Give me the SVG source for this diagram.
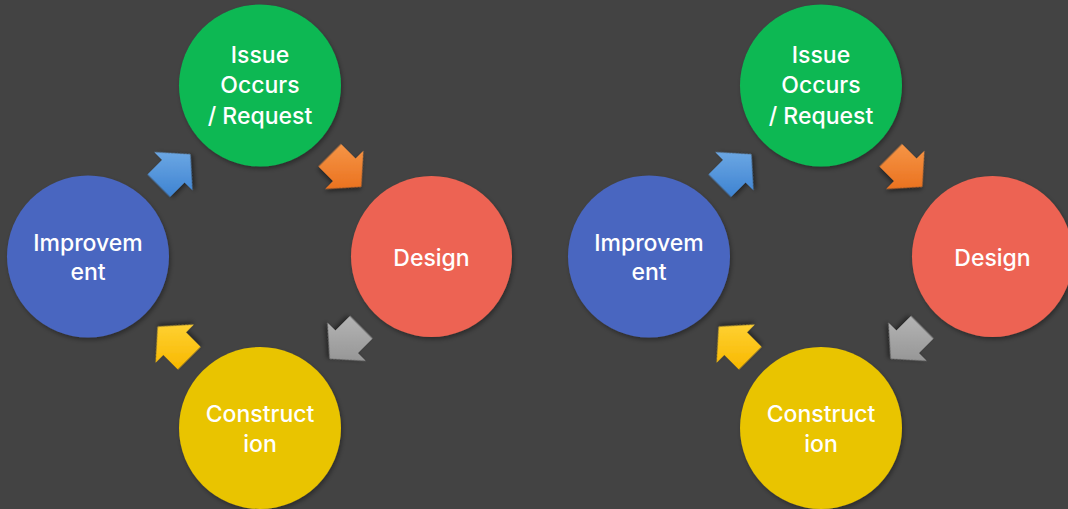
<svg xmlns="http://www.w3.org/2000/svg" xmlns:xlink="http://www.w3.org/1999/xlink" width="1068" height="509" viewBox="0 0 1068 509">
  <style>
    .lbl { font-family: Inter, "Noto Sans", "Liberation Sans", sans-serif; font-size: 23px; font-weight: 500; fill: #ffffff; text-anchor: middle; }
    .node { filter: url(#sh); }
    .arr { filter: url(#ash); }
  </style>
  <defs>
    <filter id="sh" x="-20%" y="-20%" width="140%" height="140%">
      <feDropShadow dx="1.5" dy="2.5" stdDeviation="2" flood-color="#000" flood-opacity="0.35"/>
    </filter>
    <filter id="ash" x="-30%" y="-30%" width="160%" height="160%">
      <feDropShadow dx="1.5" dy="2.5" stdDeviation="2" flood-color="#000" flood-opacity="0.45"/>
    </filter>
    <path id="arrow" d="M -21.5,-16 L -1,-16 L -1,-27 L 23,0 L -1,27 L -1,16 L -21.5,16 Z"/>
    <linearGradient id="gBlue" gradientUnits="userSpaceOnUse" x1="17.7" y1="-17.7" x2="-17.7" y2="17.7">
      <stop offset="0" stop-color="#72ace6"/>
      <stop offset="1" stop-color="#3f84d2"/>
    </linearGradient>
    <linearGradient id="gOrange" gradientUnits="userSpaceOnUse" x1="-17.7" y1="-17.7" x2="17.7" y2="17.7">
      <stop offset="0" stop-color="#f59445"/>
      <stop offset="1" stop-color="#e96d1a"/>
    </linearGradient>
    <linearGradient id="gGray" gradientUnits="userSpaceOnUse" x1="-17.7" y1="17.7" x2="17.7" y2="-17.7">
      <stop offset="0" stop-color="#b3b3b3"/>
      <stop offset="1" stop-color="#929292"/>
    </linearGradient>
    <linearGradient id="gYellow" gradientUnits="userSpaceOnUse" x1="17.7" y1="17.7" x2="-17.7" y2="-17.7">
      <stop offset="0" stop-color="#ffd43a"/>
      <stop offset="1" stop-color="#f8b900"/>
    </linearGradient>
  </defs>
  <rect width="1068" height="509" fill="#434343"/>

  <!-- Left cycle -->
  <g id="cycle-left">
    <g id="connectors-left">
      <use xlink:href="#arrow" href="#arrow" class="arr" fill="url(#gBlue)" transform="translate(174,170.5) rotate(-45)"/>
      <use xlink:href="#arrow" href="#arrow" class="arr" fill="url(#gOrange)" transform="translate(345,170.5) rotate(45)"/>
      <use xlink:href="#arrow" href="#arrow" class="arr" fill="url(#gGray)" transform="translate(346,342.5) rotate(135)"/>
      <use xlink:href="#arrow" href="#arrow" class="arr" fill="url(#gYellow)" transform="translate(174,343) rotate(-135)"/>
    </g>
    <g id="node-issue-left">
      <circle class="node" cx="260" cy="85.5" r="81" fill="#0bb853"/>
      <text class="lbl" x="260" y="63">Issue</text>
      <text class="lbl" x="260" y="93">Occurs</text>
      <text class="lbl" x="260" y="124">/ Request</text>
    </g>
    <g id="node-design-left">
      <circle class="node" cx="431.5" cy="256.5" r="80.5" fill="#ed6452"/>
      <text class="lbl" x="431.5" y="266">Design</text>
    </g>
    <g id="node-construction-left">
      <circle class="node" cx="260" cy="428" r="81" fill="#e9c404"/>
      <text class="lbl" x="260" y="422">Construct</text>
      <text class="lbl" x="260" y="452">ion</text>
    </g>
    <g id="node-improvement-left">
      <circle class="node" cx="88" cy="256.5" r="81" fill="#4966c0"/>
      <text class="lbl" x="88" y="251">Improvem</text>
      <text class="lbl" x="88" y="280">ent</text>
    </g>
  </g>

  <!-- Right cycle -->
  <g id="cycle-right" transform="translate(561,0)">
    <g id="connectors-right">
      <use xlink:href="#arrow" href="#arrow" class="arr" fill="url(#gBlue)" transform="translate(174,170.5) rotate(-45)"/>
      <use xlink:href="#arrow" href="#arrow" class="arr" fill="url(#gOrange)" transform="translate(345,170.5) rotate(45)"/>
      <use xlink:href="#arrow" href="#arrow" class="arr" fill="url(#gGray)" transform="translate(346,342.5) rotate(135)"/>
      <use xlink:href="#arrow" href="#arrow" class="arr" fill="url(#gYellow)" transform="translate(174,343) rotate(-135)"/>
    </g>
    <g id="node-issue-right">
      <circle class="node" cx="260" cy="85.5" r="81" fill="#0bb853"/>
      <text class="lbl" x="260" y="63">Issue</text>
      <text class="lbl" x="260" y="93">Occurs</text>
      <text class="lbl" x="260" y="124">/ Request</text>
    </g>
    <g id="node-design-right">
      <circle class="node" cx="431.5" cy="256.5" r="80.5" fill="#ed6452"/>
      <text class="lbl" x="431.5" y="266">Design</text>
    </g>
    <g id="node-construction-right">
      <circle class="node" cx="260" cy="428" r="81" fill="#e9c404"/>
      <text class="lbl" x="260" y="422">Construct</text>
      <text class="lbl" x="260" y="452">ion</text>
    </g>
    <g id="node-improvement-right">
      <circle class="node" cx="88" cy="256.5" r="81" fill="#4966c0"/>
      <text class="lbl" x="88" y="251">Improvem</text>
      <text class="lbl" x="88" y="280">ent</text>
    </g>
  </g>
</svg>
